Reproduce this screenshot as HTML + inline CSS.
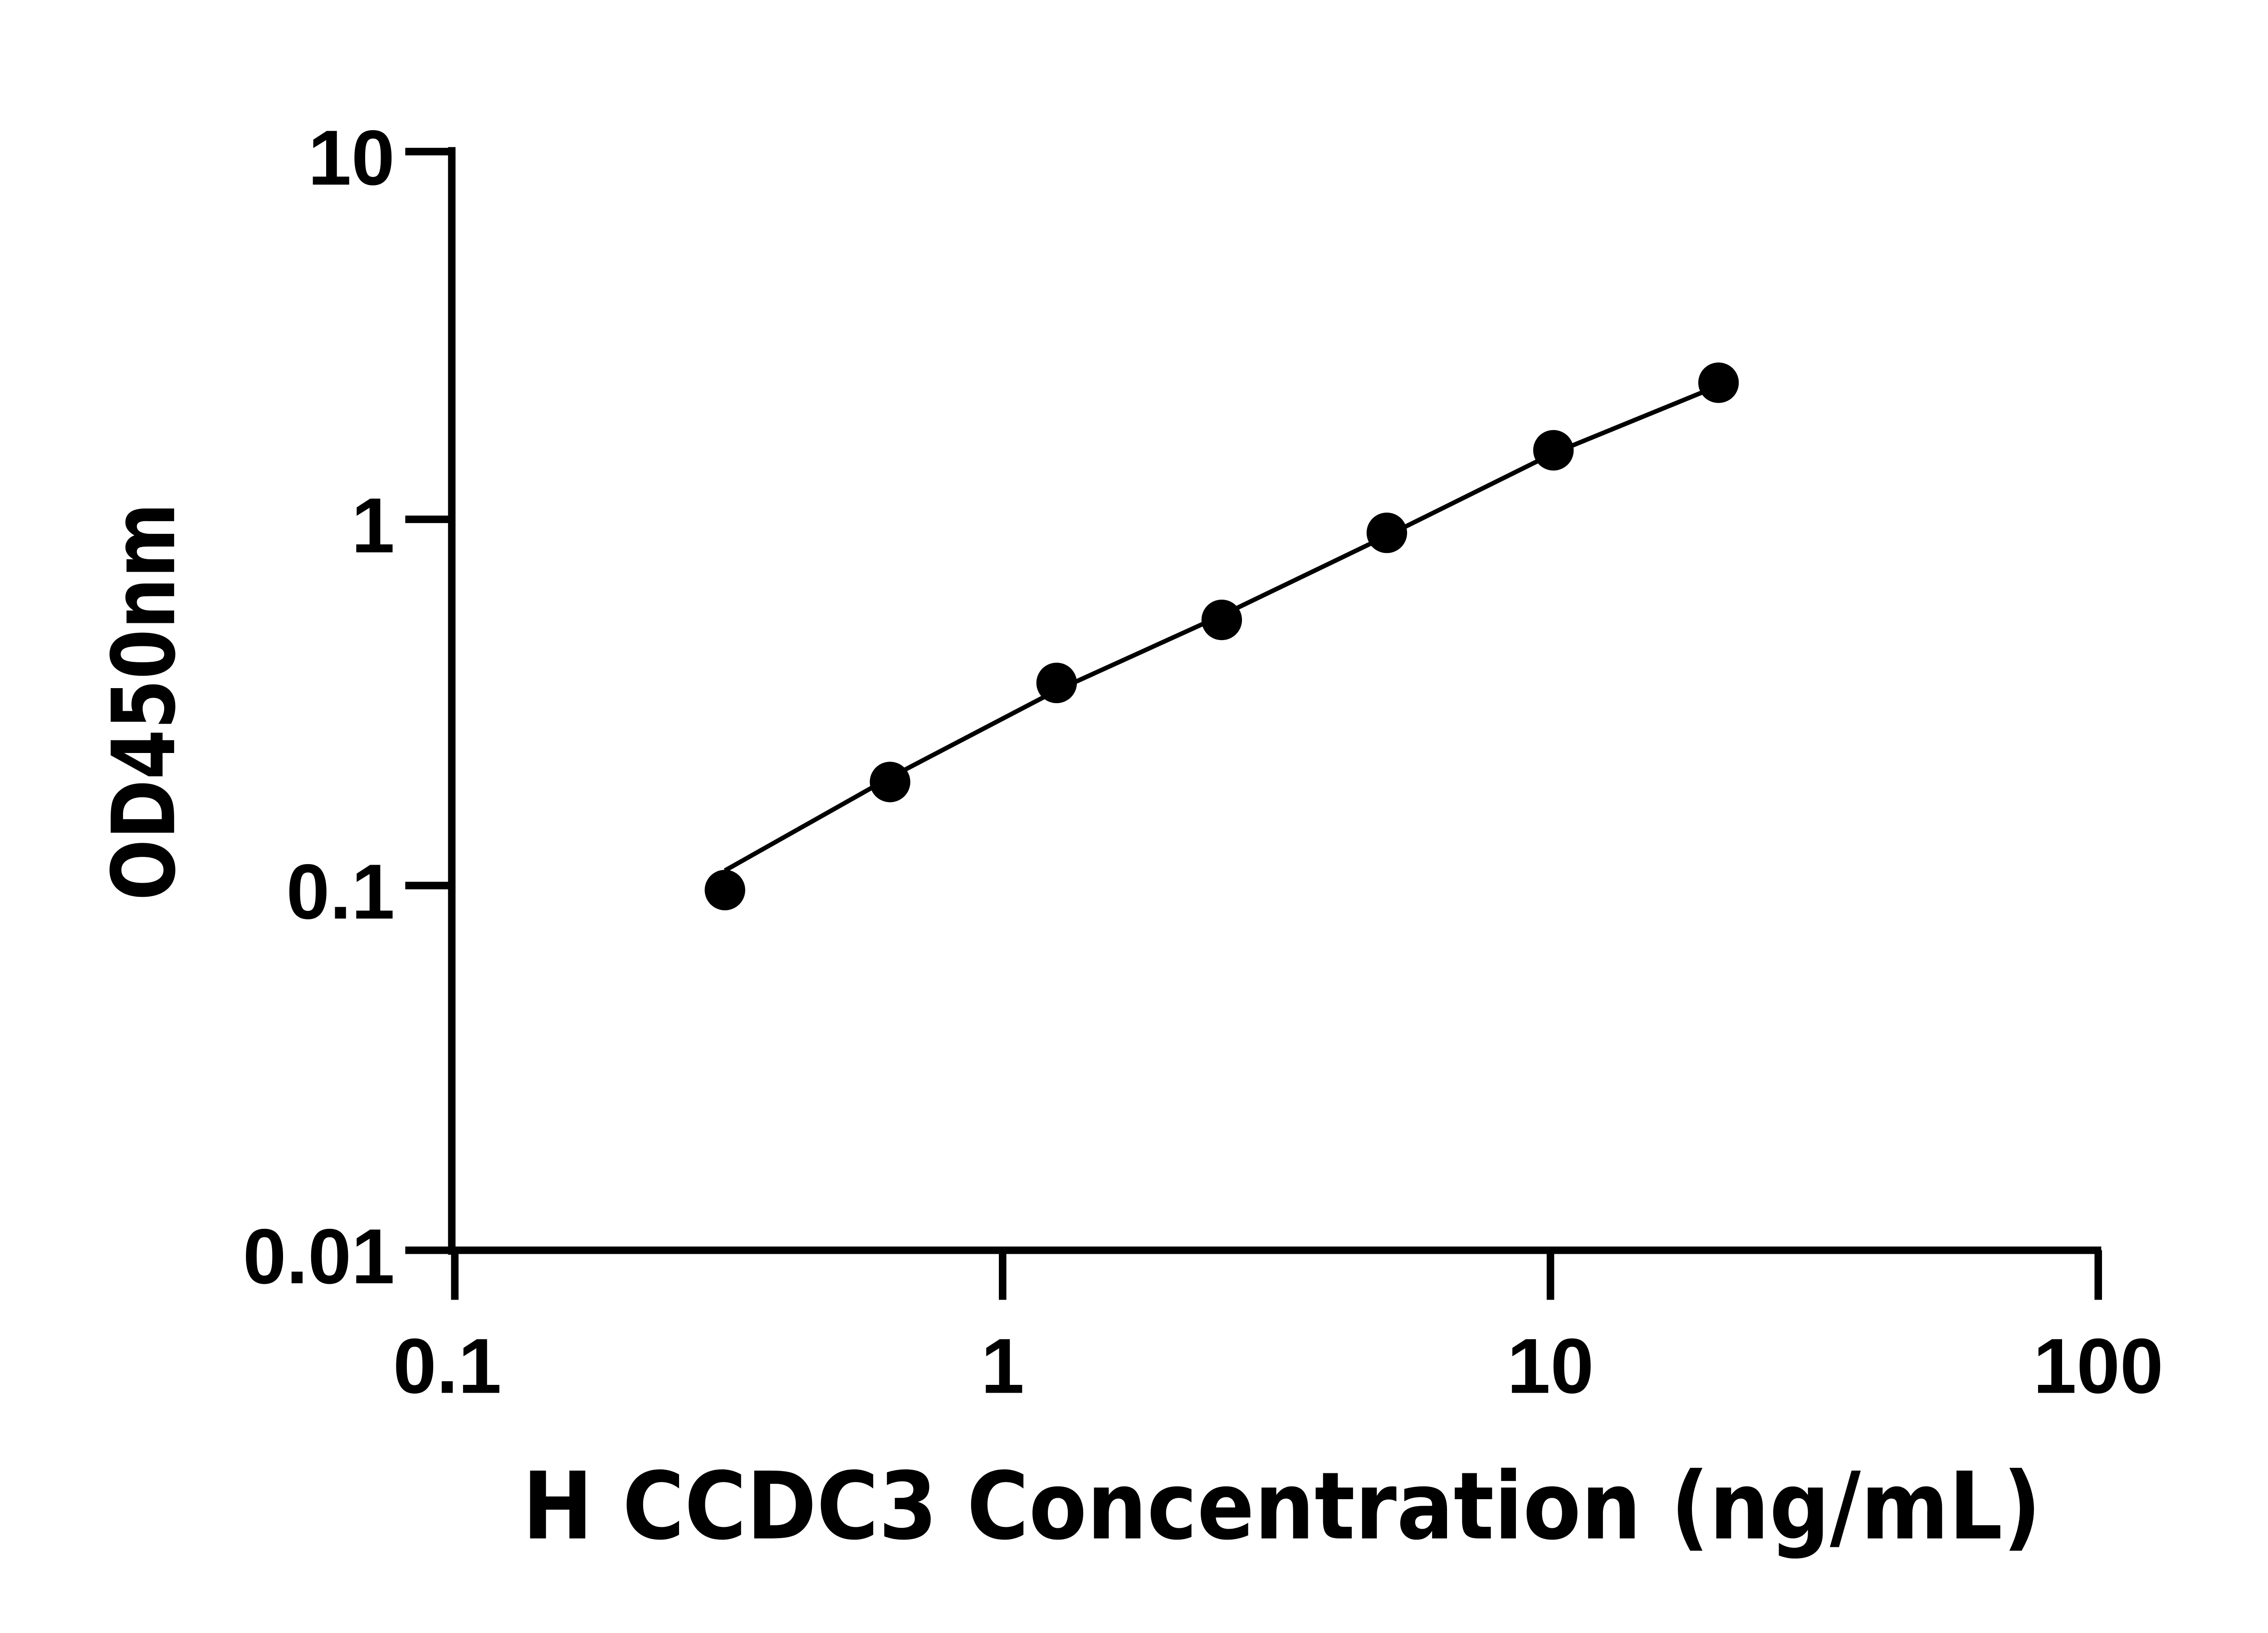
<!DOCTYPE html>
<html><head><meta charset="utf-8"><style>html,body{margin:0;padding:0;background:#fff}svg{display:block}
.n{font-family:"Liberation Sans",Arial,sans-serif;font-weight:bold;font-size:52px}
.t{font-family:"DejaVu Sans","Liberation Sans",sans-serif;font-weight:bold}
</style></head>
<body>
<svg width="5142" height="3600" viewBox="0 0 1554 1088" xmlns="http://www.w3.org/2000/svg">
<rect width="1554" height="1088" fill="#fff"/>
<g stroke="#000" stroke-width="5" fill="none" stroke-linecap="butt">
<path d="M301,98 V836"/>
<path d="M298,833 H1400"/>
<path d="M270,101 H303 M270,346 H301 M270,590 H301 M270,833 H301"/>
<path d="M303,833 V866 M668,833 V866 M1033,833 V866 M1398,833 V866"/>
</g>
<polyline fill="none" stroke="#000" stroke-width="3" points="483,580 593,518 704,460 814,410 924,357 1035,302 1145,257"/>
<g fill="#000">
<circle cx="483" cy="593" r="13.5"/>
<circle cx="593" cy="521" r="13.5"/>
<circle cx="704" cy="455" r="13.5"/>
<circle cx="814" cy="413" r="13.5"/>
<circle cx="924" cy="355" r="13.5"/>
<circle cx="1035" cy="300" r="13.5"/>
<circle cx="1145" cy="255" r="13.5"/>
</g>
<g class="n" fill="#000">
<text x="263" y="123" text-anchor="end">10</text>
<text x="263" y="368" text-anchor="end">1</text>
<text x="263" y="612" text-anchor="end">0.1</text>
<text x="263" y="855" text-anchor="end">0.01</text>
<text x="298" y="928" text-anchor="middle">0.1</text>
<text x="668" y="928" text-anchor="middle">1</text>
<text x="1033" y="928" text-anchor="middle">10</text>
<text x="1398" y="928" text-anchor="middle">100</text>
</g>
<text class="t" x="348" y="1025" font-size="62" textLength="1012" lengthAdjust="spacingAndGlyphs" fill="#000">H CCDC3 Concentration (ng/mL)</text>
<text class="t" transform="translate(116,600) rotate(-90)" x="0" y="0" font-size="58" textLength="265" lengthAdjust="spacingAndGlyphs" fill="#000">OD450nm</text>
</svg>
</body></html>
